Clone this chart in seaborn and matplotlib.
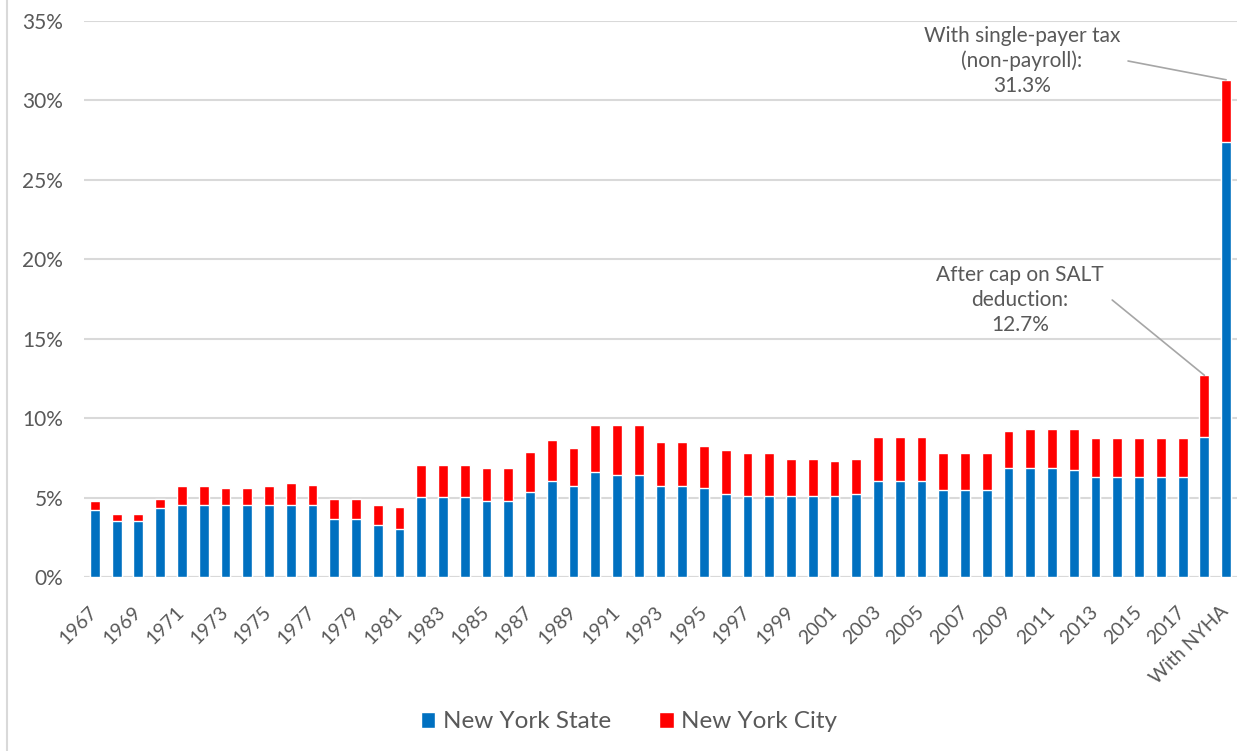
import numpy as np
import pandas as pd
import matplotlib
matplotlib.use('Agg')
import matplotlib.pyplot as plt
from matplotlib.patches import Patch
from matplotlib.lines import Line2D
import seaborn as sns

# categories: 1967..2018 plus the NYHA scenario
years = [str(y) for y in range(1967, 2019)] + ['With NYHA']

# New York State top rate (%)
state = [4.19, 3.52, 3.52, 4.32, 4.55, 4.55, 4.55, 4.55, 4.55, 4.55,
         4.55, 3.62, 3.62, 3.28, 3.03, 5.01, 5.01, 5.01, 4.78, 4.78,
         5.35, 6.06, 5.71, 6.63, 6.42, 6.42, 5.71, 5.71, 5.60, 5.22,
         5.12, 5.12, 5.12, 5.12, 5.12, 5.24, 6.06, 6.06, 6.06, 5.47,
         5.47, 5.47, 6.86, 6.86, 6.86, 6.76, 6.30, 6.30, 6.30, 6.30,
         6.30, 8.84, 27.4]

# New York City top rate (%)
city = [0.59, 0.46, 0.46, 0.56, 1.16, 1.16, 1.03, 1.03, 1.16, 1.39,
        1.26, 1.26, 1.26, 1.27, 1.39, 2.06, 2.04, 2.04, 2.08, 2.08,
        2.54, 2.55, 2.44, 2.93, 3.14, 3.14, 2.77, 2.77, 2.65, 2.80,
        2.67, 2.67, 2.33, 2.33, 2.21, 2.21, 2.78, 2.78, 2.78, 2.32,
        2.32, 2.32, 2.32, 2.45, 2.45, 2.55, 2.42, 2.42, 2.42, 2.42,
        2.42, 3.86, 3.90]

df = pd.DataFrame({'year': years, 'state': state, 'city': city})
df['total'] = df['state'] + df['city']

blue = '#0070C0'
red = '#FF0000'
grey = '#595959'
gridc = '#D9D9D9'

sns.set_style('white')
plt.rcParams['font.family'] = ['Lato', 'DejaVu Sans']

fig = plt.figure(figsize=(12.58, 7.51), dpi=100)
ax = fig.add_axes([84 / 1258, 1 - 577 / 751, (1237 - 84) / 1258, (577 - 21) / 751])

sns.barplot(data=df, x='year', y='total', color=red, width=0.45,
            saturation=1, ax=ax, zorder=3)
sns.barplot(data=df, x='year', y='state', color=blue, width=0.45,
            saturation=1, ax=ax, zorder=3)

ax.set_xlim(-0.5, len(years) - 0.5)
ax.set_ylim(0, 35)
ax.set_yticks(range(0, 36, 5))
ax.set_yticklabels([f'{v}%' for v in range(0, 36, 5)])
ax.yaxis.grid(True, color=gridc, linewidth=1.5, zorder=0)
ax.set_axisbelow(True)
for s in ax.spines.values():
    s.set_visible(False)
ax.axhline(0, color=gridc, linewidth=1.5, zorder=1)

ax.set_xlabel('')
ax.set_ylabel('')
ax.set_xticks(range(len(years)))
ax.set_xticklabels([y if i % 2 == 0 else '' for i, y in enumerate(years)],
                   rotation=45, ha='right', va='center', rotation_mode='anchor')
ax.tick_params(axis='x', length=0, pad=23, labelsize=14, labelcolor=grey)
ax.tick_params(axis='y', length=0, pad=15, labelsize=15, labelcolor=grey)

# annotations with leader lines
n = len(years)
ax.annotate('With single-payer tax\n(non-payroll):\n31.3%',
            xy=(n - 1, df['total'].iloc[-1]), xytext=(1022 / 1258, 1 - 61 / 751),
            textcoords='figure fraction', ha='center', va='center',
            fontsize=15, color=grey, linespacing=1.3,
            arrowprops=dict(arrowstyle='-', color='#A6A6A6', lw=1.2,
                            shrinkA=0, shrinkB=0,
                            relpos=(1.04, 0.5)))
ax.annotate('After cap on SALT\ndeduction:\n12.7%',
            xy=(n - 2, df['total'].iloc[-2]), xytext=(1020 / 1258, 1 - 300 / 751),
            textcoords='figure fraction', ha='center', va='center',
            fontsize=15, color=grey, linespacing=1.3,
            arrowprops=dict(arrowstyle='-', color='#A6A6A6', lw=1.2,
                            shrinkA=0, shrinkB=0,
                            relpos=(1.05, 0.5)))

handles = [Patch(facecolor=blue, label='New York State'),
           Patch(facecolor=red, label='New York City')]
fig.legend(handles=handles, loc='center', bbox_to_anchor=(0.5, 1 - 722 / 751),
           ncol=2, frameon=False, fontsize=17.5, labelcolor=grey,
           handlelength=0.6, handleheight=0.6, handletextpad=0.3,
           columnspacing=2.0)

# chart area border on the left edge
fig.add_artist(Line2D([7 / 1258, 7 / 1258], [0, 1], color=gridc, lw=1.5))

fig.savefig('out.png', dpi=100)
